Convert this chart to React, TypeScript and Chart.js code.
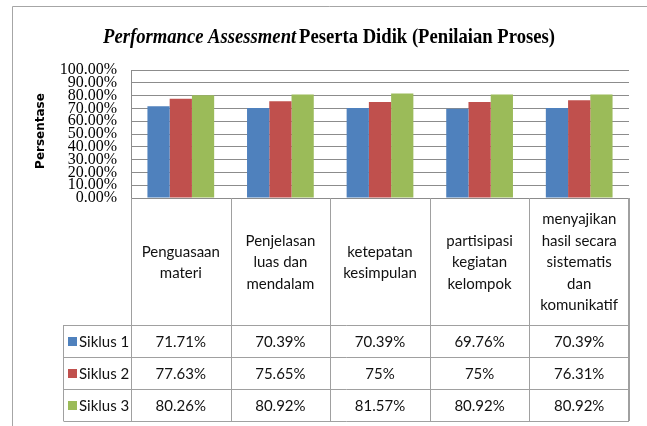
import React, { useEffect, useRef } from 'react';
import { Chart, registerables } from 'chart.js';

Chart.register(...registerables);

const categories: string[][] = [
  ['Penguasaan', 'materi'],
  ['Penjelasan', 'luas dan', 'mendalam'],
  ['ketepatan', 'kesimpulan'],
  ['partisipasi', 'kegiatan', 'kelompok'],
  ['menyajikan', 'hasil secara', 'sistematis', 'dan', 'komunikatif'],
];
const seriesNames = ['Siklus 1', 'Siklus 2', 'Siklus 3'];
const siklus1 = [71.71, 70.39, 70.39, 69.76, 70.39];
const siklus2 = [77.63, 75.65, 75, 75, 76.31];
const siklus3 = [80.26, 80.92, 81.57, 80.92, 80.92];
const seriesColors = ['#4F81BD', '#C0504D', '#9BBB59'];
const titleItalic = 'Performance Assessment';
const titleRest = 'Peserta Didik (Penilaian Proses)';
const yAxisTitle = 'Persentase';

const fmtPct = (v: number) => (Number.isInteger(v) ? `${v}%` : `${v.toFixed(2)}%`);

const TABLE_FONT = "15px Lato, 'Noto Sans', sans-serif";

const tablePlugin = {
  id: 'tablePlugin',
  afterDraw(chart: any) {
    const ctx: CanvasRenderingContext2D = chart.ctx;
    const area = chart.chartArea;
    const xs = chart.scales.x;
    const series = [siklus1, siklus2, siklus3];
    ctx.save();

    // outer frame
    ctx.strokeStyle = '#a6a6a6';
    ctx.lineWidth = 1;
    ctx.beginPath();
    ctx.moveTo(12.5, 426);
    ctx.lineTo(12.5, 6.5);
    ctx.lineTo(647, 6.5);
    ctx.stroke();

    // title
    ctx.fillStyle = '#000';
    ctx.textBaseline = 'middle';
    ctx.textAlign = 'left';
    const fItal = "italic bold 21px 'Liberation Serif', serif";
    const fBold = "bold 21px 'Liberation Serif', serif";
    ctx.font = fItal;
    const w1 = ctx.measureText(titleItalic).width;
    ctx.font = fBold;
    const sp = ctx.measureText(' ').width * 0.6;
    const w2 = ctx.measureText(titleRest).width;
    const target = 452;
    const s = target / (w1 + sp + w2);
    ctx.save();
    ctx.translate(103, 38);
    ctx.scale(s, 1);
    ctx.font = fItal;
    ctx.fillText(titleItalic, 0, 0);
    ctx.font = fBold;
    ctx.fillText(titleRest, w1 + sp, 0);
    ctx.restore();

    // y axis title
    ctx.save();
    ctx.translate(41, 131);
    ctx.rotate(-Math.PI / 2);
    ctx.font = "bold 12px 'DejaVu Sans', sans-serif";
    ctx.textAlign = 'center';
    ctx.textBaseline = 'middle';
    ctx.fillText(yAxisTitle, 0, 0);
    ctx.restore();

    // data table
    const n = categories.length;
    const step = xs.getPixelForValue(1) - xs.getPixelForValue(0);
    const right = area.right;
    const top = area.bottom;
    const headerH = 127;
    const rowH = 32;
    const legendLeft = 63.5;
    const rowsTop = top + headerH;
    const bottom = rowsTop + rowH * 3;

    ctx.strokeStyle = '#a0a0a0';
    ctx.lineWidth = 1;
    ctx.beginPath();
    for (let i = 0; i <= n; i++) {
      const x = Math.round(xs.getPixelForValue(i) - step / 2) + 0.5;
      ctx.moveTo(x, top);
      ctx.lineTo(x, bottom);
    }
    ctx.moveTo(Math.round(right) - 0.5, top);
    ctx.lineTo(Math.round(right) - 0.5, bottom);
    for (let r = 0; r <= 3; r++) {
      const y = Math.round(rowsTop + r * rowH) + 0.5;
      ctx.moveTo(legendLeft, y);
      ctx.lineTo(right, y);
    }
    ctx.moveTo(legendLeft, rowsTop);
    ctx.lineTo(legendLeft, bottom);
    ctx.stroke();

    ctx.fillStyle = '#111';
    ctx.font = TABLE_FONT;
    ctx.textAlign = 'center';
    ctx.textBaseline = 'middle';
    const lh = 21.5;
    for (let i = 0; i < n; i++) {
      const cx = xs.getPixelForValue(i);
      const lines = categories[i];
      const cy = top + headerH / 2 + 1;
      const start = cy - ((lines.length - 1) * lh) / 2;
      lines.forEach((ln, k) => ctx.fillText(ln, cx, start + k * lh));
      series.forEach((vals, r) => {
        ctx.fillText(fmtPct(vals[i]), cx, rowsTop + r * rowH + rowH / 2 + 1);
      });
    }
    ctx.textAlign = 'left';
    seriesNames.forEach((nm, r) => {
      const cy = rowsTop + r * rowH + rowH / 2;
      ctx.fillStyle = seriesColors[r];
      ctx.fillRect(68, cy - 4, 9, 9);
      ctx.fillStyle = '#111';
      ctx.fillText(nm, 79, cy + 1);
    });
    ctx.restore();
  },
};

export default function App() {
  const ref = useRef<HTMLCanvasElement | null>(null);
  useEffect(() => {
    if (!ref.current) return;
    const chart = new Chart(ref.current, {
      type: 'bar',
      data: {
        labels: categories.map((c) => c.join(' ')),
        datasets: [siklus1, siklus2, siklus3].map((d, i) => ({
          label: seriesNames[i],
          data: d,
          backgroundColor: seriesColors[i],
          borderWidth: 0,
          barPercentage: 1,
          categoryPercentage: 0.67,
        })),
      },
      options: {
        animation: false,
        responsive: true,
        maintainAspectRatio: false,
        layout: { padding: { left: 0, right: 18, top: 70, bottom: 228 } },
        plugins: {
          legend: { display: false },
          title: { display: false },
          tooltip: { enabled: false },
        },
        scales: {
          x: { display: false },
          y: {
            min: 0,
            max: 100,
            afterFit: (scale: any) => {
              scale.width = 131;
            },
            ticks: {
              stepSize: 10,
              autoSkip: false,
              padding: 14,
              color: '#000',
              font: { family: "'Liberation Serif', serif", size: 16, lineHeight: 1 },
              callback: (v: any) => `${Number(v).toFixed(2)}%`,
            },
            grid: { color: '#8c8c8c', drawTicks: false },
            border: { color: '#8c8c8c' },
          },
        },
      },
      plugins: [tablePlugin],
    });
    return () => chart.destroy();
  }, []);
  return (
    <div style={{ position: 'absolute', left: 0, top: 0, width: 647, height: 426, background: '#fff' }}>
      <canvas ref={ref} />
    </div>
  );
}
